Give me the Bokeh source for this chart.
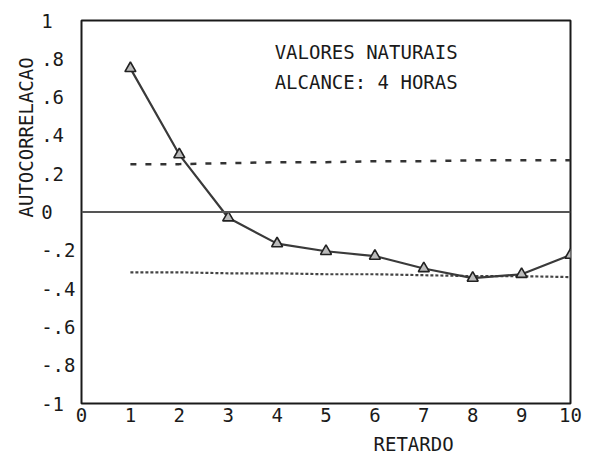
from bokeh.plotting import figure
from bokeh.models import FixedTicker, Span, Range1d, Label, Title
from bokeh.embed import file_html
from bokeh.resources import INLINE

# ---- data ----
lags = [1, 2, 3, 4, 5, 6, 7, 8, 9, 10]
autocorr = [0.75, 0.30, -0.03, -0.165, -0.205, -0.23, -0.295, -0.345, -0.325, -0.225]
upper_band = [0.25, 0.25, 0.255, 0.26, 0.26, 0.265, 0.265, 0.27, 0.27, 0.27]
lower_band = [-0.315, -0.315, -0.32, -0.32, -0.325, -0.325, -0.33, -0.335, -0.335, -0.34]

x_ticks = [0, 1, 2, 3, 4, 5, 6, 7, 8, 9, 10]
x_tick_labels = ["0", "1", "2", "3", "4", "5", "6", "7", "8", "9", "10"]
y_ticks = [1, 0.8, 0.6, 0.4, 0.2, 0, -0.2, -0.4, -0.6, -0.8, -1]
y_tick_labels = ["1", ".8", ".6", ".4", ".2", "0", "-.2", "-.4", "-.6", "-.8", "-1"]

title_lines = ["VALORES NATURAIS", "ALCANCE: 4 HORAS"]
x_title = "RETARDO"
y_title = "AUTOCORRELACAO"

FONT = "DejaVu Sans Mono"
FS = "19px"
INK = "#1a1a1a"
NBSP = "\u00a0"

p = figure(width=593, height=459, output_backend="svg", toolbar_location=None,
           x_range=Range1d(0, 10), y_range=Range1d(-1, 1))
p.frame_width = 489
p.frame_height = 383
p.min_border_left = 81
p.min_border_right = 23
p.min_border_top = 20
p.min_border_bottom = 56
p.background_fill_color = "white"
p.border_fill_color = "white"
p.outline_line_color = INK
p.outline_line_width = 2
p.xgrid.visible = False
p.ygrid.visible = False

for ax in (p.xaxis[0], p.yaxis[0]):
    ax.major_tick_line_color = None
    ax.minor_tick_line_color = None
    ax.major_tick_out = 0
    ax.major_tick_in = 0
    ax.minor_tick_out = 0
    ax.minor_tick_in = 0
    ax.axis_line_color = None
    ax.major_label_text_font = FONT
    ax.major_label_text_font_size = FS
    ax.major_label_text_color = INK

xa = p.xaxis[0]
xa.ticker = FixedTicker(ticks=x_ticks)
xa.major_label_overrides = {t: s for t, s in zip(x_ticks, x_tick_labels)}
xa.major_label_standoff = 4

ya = p.yaxis[0]
ya.ticker = FixedTicker(ticks=y_ticks)
# the plotter wrote these left-aligned: pad to equal width
ya.major_label_overrides = {t: s + NBSP * (3 - len(s)) for t, s in zip(y_ticks, y_tick_labels)}
ya.major_label_standoff = 6

# axis titles placed like the plotter did (off-centre)
p.add_layout(Title(text=y_title, align="left", offset=186, standoff=3,
                   text_font=FONT, text_font_size=FS, text_font_style="normal",
                   text_color=INK), "left")
p.add_layout(Title(text=x_title, align="left", offset=292, standoff=12,
                   text_font=FONT, text_font_size=FS, text_font_style="normal",
                   text_color=INK), "below")

# zero reference line
p.add_layout(Span(location=0, dimension="width", line_color="#555555", line_width=2))

# bands
p.line(lags, upper_band, line_color="#333333", line_width=2.5, line_dash="6 9")
p.line(lags, lower_band, line_color="#444444", line_width=2.2, line_dash="3 2")

# autocorrelation
p.line(lags, autocorr, line_color="#3a3a3a", line_width=2.2)
p.scatter(lags, autocorr, marker="triangle", size=11, fill_color="#bbbbbb",
          line_color="#222222", line_width=1.6)

# titles inside the frame
p.add_layout(Label(x=3.95, y=0.835, text=title_lines[0], text_align="left",
                   text_baseline="middle", text_font=FONT, text_font_size=FS,
                   text_color=INK))
p.add_layout(Label(x=3.95, y=0.68, text=title_lines[1], text_align="left",
                   text_baseline="middle", text_font=FONT, text_font_size=FS,
                   text_color=INK))

open("out.html", "w").write(file_html(p, INLINE))
